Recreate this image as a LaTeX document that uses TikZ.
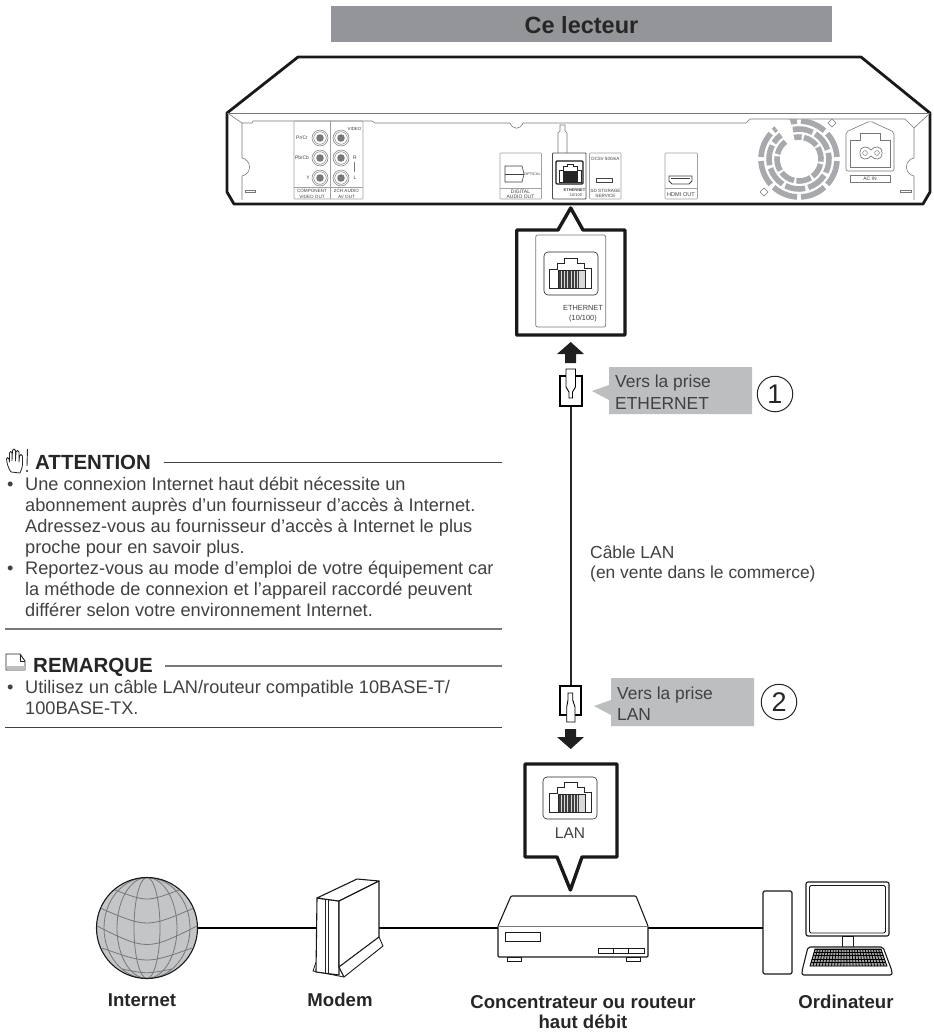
\documentclass[tikz,border=0pt]{standalone}
\usepackage{fontspec}
\setmainfont{Liberation Sans}
\usetikzlibrary{calc}
\definecolor{inkgray}{HTML}{414042}
\definecolor{bargray}{HTML}{939598}
\definecolor{tipgray}{HTML}{BCBEC0}
\definecolor{linegray}{HTML}{77787B}
\definecolor{fangray}{HTML}{A7A9AC}
\definecolor{globegray}{HTML}{C4C5C7}
\tikzset{
	bodytxt/.style={font=\fontsize{18.2}{21}\selectfont,text=inkgray,inner sep=0,anchor=base west},
	headtxt/.style={font=\fontsize{20.5}{24}\selectfont\bfseries,text=black!85,inner sep=0,anchor=base west},
	tiptxt/.style={font=\fontsize{17.4}{21}\selectfont,text=inkgray,inner sep=0,anchor=base west},
	captxt/.style={font=\fontsize{18.6}{22}\selectfont\bfseries,text=black!85,inner sep=0,anchor=base},
	tinytxt/.style={font=\fontsize{5}{6}\selectfont,text=inkgray,inner sep=0,anchor=base},
	panelbox/.style={draw=linegray!70,line width=0.6pt,rounded corners=0.8pt},
	boxline/.style={draw=black!90,line width=3.4pt,line join=round,fill=white},
	cable/.style={draw=black,line width=2.7pt},
	ruleline/.style={draw=black!75,line width=1pt},
	tipshape/.style={fill=tipgray,draw=none},
	solidarrow/.style={fill=black!88,draw=none},
	device/.style={draw=black!90,line width=1.1pt,fill=white,line join=round},
	numring/.style={circle,draw=black!85,line width=1pt,minimum size=35.5pt,inner sep=0,font=\fontsize{27}{30}\selectfont,text=black!85}
}
\newcommand{\rjjack}[2]{%
	\begin{scope}[shift={(#1,#2)}]
		\fill[white!70!gray] (-12,-3) rectangle (14.5,15);
		\foreach \sx in {0,...,13}
			\draw[black!75,line width=0.7pt] (-11.5+\sx*1.45,-3) -- (-11.5+\sx*1.45,15);
		\draw[black!85,line width=0.6pt] (-12,-3) rectangle (14.5,15);
		\draw[black!85,line width=0.6pt] (-21,15) -- (-21,-4) -- (-13.5,-4) -- (-13.5,-10) -- (-6,-10) -- (-6,-15) -- (6.5,-15) -- (6.5,-10) -- (14,-10) -- (14,-5) -- (21,-5) -- (21,15) -- cycle;
	\end{scope}}
\begin{document}
\begin{tikzpicture}[x=1pt,y=-1pt]
	\useasboundingbox (0,0) rectangle (934,1034);
	% title bar
	\fill[bargray] (331,6) rectangle (832,42);
	\node[inner sep=0,font=\fontsize{23.5}{26}\selectfont\bfseries,text=black!85] (title) at (581.5,25) {Ce lecteur};
	% player
	\draw[black!90,line width=2.8pt,line join=round] (227,113) -- (298,57) -- (861,57) -- (930,113) -- (930,192) -- (923,204) -- (234,204) -- (227,192) -- cycle;
	\draw[linegray,line width=0.7pt] (227,113) -- (930,113);
	\draw[linegray,line width=0.6pt] (229,114) -- (242,123) -- (252,123) -- (253,121) -- (372,121) -- (375,123) -- (510,123) .. controls (513,130) and (520,130) .. (523,123) -- (746,123) -- (750,119) -- (905,119) -- (914,128) -- (928,115);
	\draw[linegray,line width=0.6pt] (242,123) -- (242,158) .. controls (252,160) and (252,174) .. (242,176) -- (242,200);
	\draw[linegray,line width=0.6pt] (914,128) -- (914,158) .. controls (904,160) and (904,174) .. (914,176) -- (914,200);
	\draw[linegray,line width=0.5pt] (245,190) rectangle (255,192.5);
	\draw[linegray,line width=0.5pt] (900,190) rectangle (911,192.5);
	% analog jacks
	\draw[panelbox] (294,121) rectangle (363,199);
	\draw[panelbox] (330,121) -- (330,199);
	\draw[panelbox] (294,187) -- (363,187);
	\foreach \jx in {320,341}
		\foreach \jy in {138,158,178} {
			\draw[linegray,line width=0.5pt] (\jx,\jy) circle[radius=8];
			\draw[linegray,line width=0.5pt] (\jx,\jy) circle[radius=6.3];
			\fill[linegray] (\jx,\jy) circle[radius=3.8];
		}
	\node[tinytxt] (prlabel) at (302,139) {Pr/Cr};
	\node[tinytxt] (pblabel) at (302,159) {Pb/Cb};
	\node[tinytxt] (ylabel) at (308,179) {Y};
	\node[tinytxt,font=\fontsize{4.4}{5}\selectfont] (videolabel) at (354.5,130) {VIDEO};
	\node[tinytxt] (rlabel) at (355,159) {R};
	\node[tinytxt] (llabel) at (355,179) {L};
	\draw[linegray,line width=0.4pt] (354,162) -- (354,172);
	\node[tinytxt,font=\fontsize{4.6}{5}\selectfont] (compa) at (312,192.5) {COMPONENT};
	\node[tinytxt,font=\fontsize{4.6}{5}\selectfont] (compb) at (312,198) {VIDEO OUT};
	\node[tinytxt,font=\fontsize{4.6}{5}\selectfont] (audioa) at (346.5,192.5) {2CH AUDIO};
	\node[tinytxt,font=\fontsize{4.6}{5}\selectfont] (audiob) at (346.5,198) {AV OUT};
	% optical
	\draw[panelbox] (500,153) rectangle (541.5,199);
	\draw[panelbox] (500,188) -- (541.5,188);
	\draw[inkgray,line width=0.6pt] (505,166) -- (522,166) -- (524,174) -- (522,182) -- (505,182) -- cycle;
	\draw[inkgray,line width=0.5pt] (505,174) -- (524,174);
	\node[tinytxt,font=\fontsize{3.8}{5}\selectfont] (opticallabel) at (532.5,175) {OPTICAL};
	\node[tinytxt] (digitala) at (520.5,193) {DIGITAL};
	\node[tinytxt] (digitalb) at (520.5,198) {AUDIO OUT};
	% ethernet on the panel
	\draw[linegray,line width=0.6pt,fill=white] (558,153) -- (558,133) -- (560,131) -- (560,125) -- (565,125) -- (565,131) -- (567,133) -- (567,153);
	\draw[panelbox,draw=black!70,line width=0.8pt] (552.5,153) rectangle (586,199);
	\draw[black!90,line width=1.1pt,rounded corners=1pt] (556,161) rectangle (583,184);
	\fill[black!85] (563,171) rectangle (578,182);
	\draw[black!85,line width=0.7pt] (559,182) -- (559,170) -- (563,170) -- (563,166) -- (567,166) -- (567,164) -- (573,164) -- (573,166) -- (577,166) -- (577,170) -- (581,170) -- (581,182) -- cycle;
	\node[tinytxt,font=\fontsize{4}{5}\selectfont\bfseries] (ethera) at (574.5,191) {ETHERNET};
	\node[tinytxt,font=\fontsize{4}{5}\selectfont] (etherb) at (576,196.5) {10/100};
	% dc port
	\draw[panelbox] (589.5,153) rectangle (621,199);
	\node[tinytxt,font=\fontsize{4.6}{5}\selectfont] (dclabel) at (605.5,160) {DC5V 500mA};
	\draw[inkgray,line width=0.5pt] (596,178) rectangle (612,182);
	\node[tinytxt,font=\fontsize{4.6}{5}\selectfont] (sdlabela) at (605.5,192) {SD STORAGE};
	\node[tinytxt,font=\fontsize{4.6}{5}\selectfont] (sdlabelb) at (605.5,197.5) {SERVICE};
	% hdmi
	\draw[panelbox] (665,153) rectangle (697.5,199);
	\draw[panelbox] (665,188) -- (697.5,188);
	\draw[inkgray,line width=0.8pt] (669,176) -- (692,176) -- (692,181) -- (689,184) -- (672,184) -- (669,181) -- cycle;
	\draw[inkgray,line width=0.5pt] (671,178) -- (690,178);
	\node[tinytxt,font=\fontsize{5.6}{7}\selectfont] (hdmilabel) at (681,196) {HDMI OUT};
	% fan
	\begin{scope}[shift={(799,159)}]
		\clip (-42,-39.5) rectangle (42,42);
		\foreach \rad/\ofs in {22/10,30/30,38/0}
			\foreach \sg in {0,...,7}
				\pgfmathsetmacro{\st}{\ofs+\sg*45+3}
				\pgfmathsetmacro{\en}{\ofs+\sg*45+42}
				\draw[fangray,line width=5.6pt] (\st:\rad) arc[start angle=\st,end angle=\en,radius=\rad];
	\end{scope}
	\fill[white] (770,120) -- (790,120) -- (799,159) -- cycle;
	\draw[linegray,line width=0.5pt,fill=white] (828,123) -- (832,119) -- (836,123) -- (832,127) -- cycle;
	\draw[linegray,line width=0.5pt,fill=white] (760,192) -- (764,188) -- (768,192) -- (764,196) -- cycle;
	% power socket
	\draw[linegray,line width=0.6pt,rounded corners=2pt] (846,132) -- (870,121) -- (894,132) -- (894,171) -- (846,171) -- cycle;
	\draw[linegray,line width=0.6pt] (850,140) -- (860,140) -- (860,133) -- (880,133) -- (880,140) -- (890,140) -- (890,167) -- (850,167) -- cycle;
	\draw[linegray,line width=0.7pt] (860,153) .. controls (860,145) and (868,146) .. (871,150) .. controls (874,146) and (882,145) .. (882,153) .. controls (882,161) and (874,160) .. (871,156) .. controls (868,160) and (860,161) .. cycle;
	\draw[linegray,line width=0.5pt] (865,153) circle[radius=2.4];
	\draw[linegray,line width=0.5pt] (877,153) circle[radius=2.4];
	\draw[linegray,line width=0.5pt] (850,175) rectangle (890,182);
	\node[tinytxt] (aclabel) at (870,180.5) {AC IN};
	% ethernet callout
	\draw[boxline] (516.7,230) -- (558,230) -- (570.7,208) -- (583,230) -- (625,230) -- (625,335) -- (516.7,335) -- cycle;
	\fill[white] (560,231.7) -- (570.7,213) -- (581,231.7) -- cycle;
	\draw[linegray,line width=0.7pt,rounded corners=2pt] (535.7,235) rectangle (605.7,327);
	\draw[black!85,line width=0.6pt,rounded corners=4pt] (544,252) rectangle (598,295);
	\rjjack{570.7}{273.5}
	\node[tinytxt,font=\fontsize{7.4}{9}\selectfont] (etherbig) at (583,310.5) {ETHERNET};
	\node[tinytxt,font=\fontsize{7.4}{9}\selectfont] (tenhundred) at (583,320.5) {(10/100)};
	\fill[solidarrow] (570.7,342) -- (584,354) -- (576,354) -- (576,363) -- (565,363) -- (565,354) -- (557,354) -- cycle;
	% lan cable with its two plugs
	\coordinate (plugA) at (570.7,406);
	\coordinate (plugB) at (570.7,686);
	\draw[black!85,line width=1.7pt] (plugA) -- (plugB);
	\draw[black,line width=1.1pt] (560,376) rectangle (582,406);
	\draw[black,line width=0.9pt,fill=white] (566,369) -- (575.5,369) -- (575.5,387) -- (572.5,392) -- (572.5,398) -- (569,398) -- (569,392) -- (566,387) -- cycle;
	\draw[black,line width=1.1pt] (560,686) rectangle (581,715);
	\draw[black,line width=0.9pt,fill=white] (566.7,722) -- (575,722) -- (575,707) -- (572.7,700) -- (572.7,693) -- (568,693) -- (568,700) -- (566.7,707) -- cycle;
	\node[tiptxt] (cablea) at (590,558) {Câble LAN};
	\node[tiptxt] (cableb) at (590,578) {(en vente dans le commerce)};
	% first balloon
	\fill[tipshape] (592,391) -- (609,385) -- (609,367) -- (752,367) -- (752,414) -- (609,414) -- (609,400) -- cycle;
	\node[tiptxt] (vertop) at (615,387) {Vers la prise};
	\node[tiptxt] (verbot) at (615,409) {ETHERNET};
	\node[numring] (numone) at (775,394) {1};
	% second balloon
	\fill[tipshape] (594,706) -- (611,700) -- (611,678) -- (754,678) -- (754,726) -- (611,726) -- (611,715) -- cycle;
	\node[tiptxt] (lantop) at (617,699) {Vers la prise};
	\node[tiptxt] (lanbot) at (617,720) {LAN};
	\node[numring] (numtwo) at (779,702) {2};
	\fill[solidarrow] (570.7,749) -- (584,737) -- (576,737) -- (576,729) -- (565,729) -- (565,737) -- (557,737) -- cycle;
	% lan callout
	\draw[boxline] (525,764) -- (617,764) -- (617,857) -- (582,857) -- (570.4,890) -- (557,857) -- (525,857) -- cycle;
	\draw[black!85,line width=0.6pt,rounded corners=4pt] (543,777) rectangle (597,819);
	\rjjack{570.7}{797}
	\node[inner sep=0,font=\fontsize{15.5}{18}\selectfont,text=inkgray] (lanlabel) at (570,833) {LAN};
	% notes
	\draw[black!85,line width=0.8pt,line join=round] (11,472) .. controls (8,468) and (7,463) .. (6.5,459) .. controls (6.5,457) and (8.5,457) .. (9,459) -- (9.5,462) -- (9.5,453) .. controls (9.5,451) and (12,451) .. (12,453) -- (12,461) -- (12.5,450.5) .. controls (12.5,448.5) and (15.5,448.5) .. (15.5,450.5) -- (15.5,461) -- (16,452) .. controls (16,450) and (19,450) .. (19,452) -- (19,462) -- (19.5,456) .. controls (19.5,454) and (22.5,454) .. (22.5,456) -- (22.5,464) .. controls (22.5,468) and (21,470) .. (20,473) -- (11,472);
	\draw[black!85,line width=0.9pt] (27.5,449) -- (27,466);
	\fill[black!85] (27,471) circle[radius=1.1];
	\node[headtxt] (attention) at (35,469) {ATTENTION};
	\coordinate (ruleA) at (164,462);
	\coordinate (ruleAend) at (502,462);
	\draw[ruleline] (ruleA) -- (ruleAend);
	\node[bodytxt] (bulletA) at (7,490) {•};
	\node[bodytxt] (lineA) at (25,490) {Une connexion Internet haut débit nécessite un};
	\node[bodytxt] (lineB) at (25,511) {abonnement auprès d’un fournisseur d’accès à Internet.};
	\node[bodytxt] (lineC) at (25,532) {Adressez-vous au fournisseur d’accès à Internet le plus};
	\node[bodytxt] (lineD) at (25,553) {proche pour en savoir plus.};
	\node[bodytxt] (bulletB) at (7,574) {•};
	\node[bodytxt] (lineE) at (25,574) {Reportez-vous au mode d’emploi de votre équipement car};
	\node[bodytxt] (lineF) at (25,595) {la méthode de connexion et l’appareil raccordé peuvent};
	\node[bodytxt] (lineG) at (25,616) {différer selon votre environnement Internet.};
	\coordinate (ruleB) at (5,629);
	\coordinate (ruleBend) at (502,629);
	\draw[ruleline,draw=linegray,line width=1.2pt] (ruleB) -- (ruleBend);
	\draw[black!85,line width=0.9pt,fill=white] (6,654) -- (20,654) -- (25,661) -- (25,670) -- (6,670) -- cycle;
	\fill[tipgray] (6.5,666) rectangle (24.5,669.5);
	\draw[black!85,line width=0.7pt] (20,654) -- (20,661) -- (25,661);
	\node[headtxt] (remarque) at (33,672) {REMARQUE};
	\coordinate (ruleC) at (165,666);
	\coordinate (ruleCend) at (502,666);
	\draw[ruleline,draw=linegray,line width=1.2pt] (ruleC) -- (ruleCend);
	\node[bodytxt] (bulletC) at (7,693) {•};
	\node[bodytxt] (lineH) at (25,693) {Utilisez un câble LAN/routeur compatible 10BASE-T/};
	\node[bodytxt] (lineI) at (25,714) {100BASE-TX.};
	\coordinate (ruleD) at (5,727);
	\coordinate (ruleDend) at (502,727);
	\draw[ruleline] (ruleD) -- (ruleDend);
	% network row: connectors first, the devices cover their ends
	\node[circle,minimum size=101pt,inner sep=0] (globe) at (147,928) {};
	\coordinate (modemL) at (317,928);
	\coordinate (modemR) at (379,928);
	\coordinate (routerL) at (498,928);
	\coordinate (routerR) at (648,928);
	\coordinate (towerL) at (763,928);
	\draw[cable] (globe) -- (modemL);
	\draw[cable] (modemR) -- (routerL);
	\draw[cable] (routerR) -- (towerL);
	% globe
	\fill[globegray] (147,928) circle[radius=50.5];
	\begin{scope}[shift={(147,928)}]
		\clip (0,0) circle[radius=50.5];
		\foreach \mrd in {13,30,43}
			\draw[linegray,line width=0.8pt] (0,0) ellipse[x radius=\mrd,y radius=50.5];
		\draw[linegray,line width=0.8pt] (-32,-38) .. controls (0,-26) .. (32,-38);
		\draw[linegray,line width=0.8pt] (-47,-20) .. controls (0,0) .. (47,-20);
		\draw[linegray,line width=0.8pt] (-52,-3) .. controls (0,23) .. (52,-3);
		\draw[linegray,line width=0.8pt] (-45,20) .. controls (0,36) .. (45,20);
		\draw[linegray,line width=0.8pt] (-25,41) .. controls (0,46) .. (25,41);
	\end{scope}
	\draw[black!90,line width=1.1pt] (147,928) circle[radius=50.5];
	% modem
	\draw[device,line width=0.8pt] (316,962) -- (313,971) -- (344,977) -- (339,967) -- cycle;
	\draw[device] (339,975) -- (316,972) -- (317,898) -- (339,901) -- cycle;
	\draw[device] (317,898) -- (357,879) -- (379,881) -- (339,901) -- cycle;
	\draw[device] (339,901) -- (379,881) -- (379,937) -- (339,967) -- cycle;
	\draw[device,line width=0.9pt] (339,967) -- (379,937) -- (383,946) -- (344,977) -- cycle;
	\draw[black!85,line width=0.7pt] (325,899) -- (325,973);
	\draw[black!85,line width=0.7pt] (328,899.5) -- (328,973.5);
	% router
	\draw[device,rounded corners=1pt] (498,926) -- (511,896) -- (636,896) -- (648,926) -- (648,957) -- (498,957) -- cycle;
	\draw[linegray,line width=1pt] (498,926) -- (648,926);
	\draw[black!90,line width=0.8pt] (505,932) rectangle (540,941);
	\draw[black!90,line width=0.8pt] (507,957) rectangle (521,961);
	\draw[black!90,line width=0.8pt] (626,957) rectangle (640,961);
	\draw[black!90,line width=0.8pt] (598,948) rectangle (644,953);
	\draw[black!90,line width=0.8pt] (613,948) -- (613,953);
	\draw[black!90,line width=0.8pt] (628,948) -- (628,953);
	% computer
	\draw[device,rounded corners=1.5pt] (763,891) rectangle (792,974);
	\draw[device,rounded corners=2pt] (806,882) rectangle (889,936);
	\draw[black!90,line width=0.8pt,rounded corners=1.5pt] (809.5,885.5) rectangle (885.5,933);
	\draw[black!90,line width=0.8pt] (842,936) rectangle (853,947);
	\draw[device,rounded corners=2pt] (808,947) -- (883,947) -- (892,971) -- (892,975) -- (802,975) -- (802,971) -- cycle;
	\begin{scope}
		\clip (815,949) -- (881,949) -- (887,966) -- (810,966) -- cycle;
		\fill[black!35] (805,949) rectangle (890,966);
		\foreach \ky in {0,...,5}
			\draw[black,line width=0.8pt] (805,949+\ky*3.4) -- (890,949+\ky*3.4);
		\foreach \kx in {0,...,25}
			\draw[black,line width=0.8pt] (815+\kx*2.64,949) -- (810+\kx*3.08,966);
	\end{scope}
	\draw[black,line width=0.7pt] (815,949) -- (881,949) -- (887,966) -- (810,966) -- cycle;
	% captions
	\node[captxt] (capinternet) at (142,1006) {Internet};
	\node[captxt] (capmodem) at (340,1006) {Modem};
	\node[captxt] (caprouter) at (583,1008) {Concentrateur ou routeur};
	\node[captxt] (caprouterb) at (583,1028) {haut débit};
	\node[captxt] (capcomputer) at (846,1008) {Ordinateur};
\end{tikzpicture}
\end{document}
